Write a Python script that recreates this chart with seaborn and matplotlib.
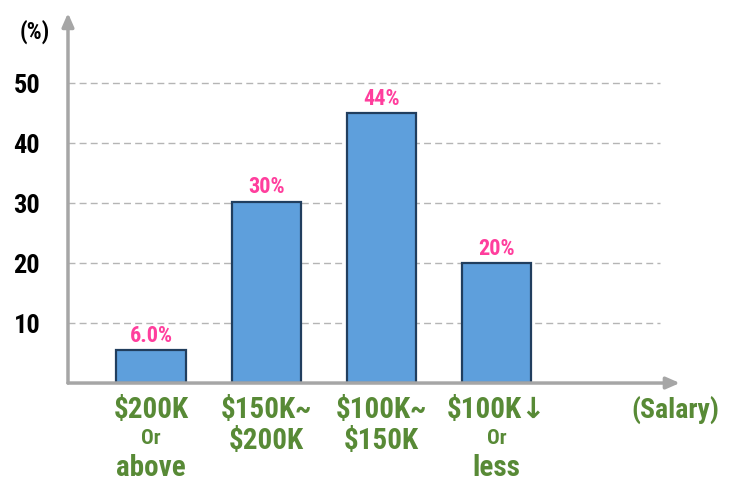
import matplotlib
matplotlib.use("Agg")
import matplotlib.pyplot as plt
import matplotlib.transforms as mtransforms
from matplotlib import font_manager
import pandas as pd
import seaborn as sns

# data
categories = ["$200K", "$150K~", "$100K~", "$100K\u2193"]
second_line = ["Or", "$200K", "$150K", "Or"]
third_line = ["above", "", "", "less"]
shares = [5.5, 30.2, 45.0, 20.0]
share_labels = ["6.0%", "30%", "44%", "20%"]
y_ticks = [10, 20, 30, 40, 50]

# pick the narrowest bold family that is installed
installed = {f.name for f in font_manager.fontManager.ttflist}
candidates = ["Liberation Sans Narrow", "DejaVu Sans Condensed",
              "Roboto Condensed", "Liberation Sans", "Roboto"]
main_font = next((c for c in candidates if c in installed), "DejaVu Sans")
FONT = [main_font, "DejaVu Sans"]

GREEN = "#588a36"
PINK = "#ff3e9d"
GREY = "#a6a6a6"
W = "black"  # heaviest weight available

sns.set_style("white")
plt.rcParams["font.family"] = FONT
plt.rcParams["font.weight"] = "bold"

df = pd.DataFrame({"category": categories, "share": shares})

fig = plt.figure(figsize=(7.43, 5.02), dpi=100)
ax = fig.add_axes([0.0915, 0.235, 0.8235, 0.737])

sns.barplot(data=df, x="category", y="share", color="#5e9fdc", saturation=1,
            width=0.6, edgecolor="#213e5e", linewidth=1.6, ax=ax, zorder=3)

ax.set_xlim(-0.72, 4.59)
ax.set_ylim(0, 61.6)

# dashed grid lines, stopping short of the arrow
for t in y_ticks:
    ax.axhline(t, xmin=0, xmax=0.967, color="#b5b5b5", linestyle=(0, (5, 3)),
               linewidth=1, zorder=1)

# arrow axes
for s in ax.spines.values():
    s.set_visible(False)
arrow = dict(arrowstyle="-|>,head_length=0.8,head_width=0.35", color=GREY,
             lw=2.5, shrinkA=0, shrinkB=0)
ax.annotate("", xy=(0, 1), xytext=(0, 0), xycoords="axes fraction",
            textcoords="axes fraction", arrowprops=arrow)
ax.annotate("", xy=(1, 0), xytext=(0, 0), xycoords="axes fraction",
            textcoords="axes fraction", arrowprops=arrow)

ax.set_yticks(y_ticks)
ax.set_yticklabels([str(t) for t in y_ticks], fontsize=19, fontweight=W,
                   color="black")
ax.tick_params(axis="y", length=0, pad=20)
ax.set_xticks(range(len(categories)))
ax.set_xticklabels([])
ax.tick_params(axis="x", length=0)
ax.set_xlabel("")
ax.set_ylabel("")

# value labels above bars
for i, (v, lab) in enumerate(zip(shares, share_labels)):
    ax.annotate(lab, (i, v), xytext=(0, 3), textcoords="offset points",
                ha="center", va="bottom", color=PINK, fontsize=16,
                fontweight=W)

# multi-line category labels
trans = mtransforms.blended_transform_factory(ax.transData, fig.transFigure)
for i, (a, b, c) in enumerate(zip(categories, second_line, third_line)):
    ax.text(i, 1 - 410 / 502, a, transform=trans, ha="center", va="center",
            color=GREEN, fontsize=21, fontweight=W)
    small = b == "Or"
    ax.text(i, 1 - (439 if small else 441) / 502, b, transform=trans,
            ha="center", va="center", color=GREEN,
            fontsize=15 if small else 21, fontweight=W)
    if c:
        ax.text(i, 1 - 468 / 502, c, transform=trans, ha="center",
                va="center", color=GREEN, fontsize=21, fontweight=W)

fig.text(675 / 743, 1 - 410 / 502, "(Salary)", ha="center", va="center",
         color=GREEN, fontsize=20, fontweight=W)
fig.text(35 / 743, 1 - 32 / 502, "(%)", ha="center", va="center",
         color="black", fontsize=17, fontweight=W)

fig.savefig("out.png", dpi=100, facecolor="white")
